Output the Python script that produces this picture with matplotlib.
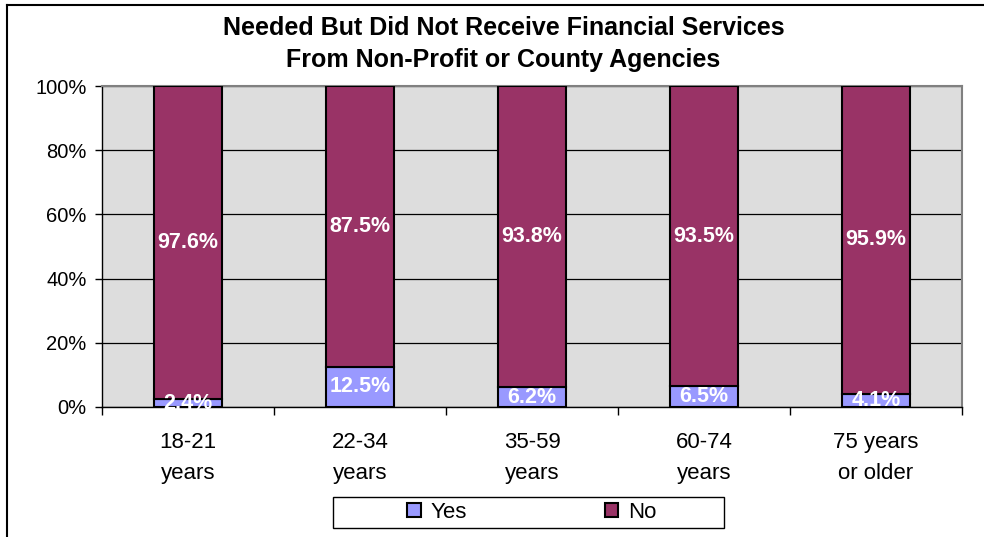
import numpy as np
import matplotlib
matplotlib.use("Agg")
import matplotlib.pyplot as plt
from matplotlib.patches import Rectangle
from matplotlib.lines import Line2D

plt.rcParams['font.family'] = ['Liberation Sans', 'DejaVu Sans']

# === Data ===
age_groups = ['18-21\nyears', '22-34\nyears', '35-59\nyears', '60-74\nyears', '75 years\nor older']
yes_pct = [2.4, 12.5, 6.2, 6.5, 4.1]
no_pct = [97.6, 87.5, 93.8, 93.5, 95.9]
yticks = [0, 20, 40, 60, 80, 100]

col_yes = '#9999FF'
col_no = '#993366'

W, H = 984, 537
fig = plt.figure(figsize=(W / 100, H / 100), dpi=100)

# axes placed in pixel terms
ax = fig.add_axes([102 / W, 1 - 407 / H, (962 - 102) / W, (407 - 86) / H])
ax.set_facecolor('#DDDDDD')

x = np.arange(len(age_groups))
bw = 0.40
ax.bar(x, yes_pct, bw, color=col_yes, edgecolor='black', linewidth=1.5, zorder=3, label='Yes')
ax.bar(x, no_pct, bw, bottom=yes_pct, color=col_no, edgecolor='black', linewidth=1.5, zorder=3, label='No')

# value labels in the middle of each segment
for i in range(len(x)):
    ax.text(x[i], yes_pct[i] / 2, f'{yes_pct[i]}%', ha='center', va='center',
            color='white', fontsize=15.5, fontweight='bold', zorder=4)
    ax.text(x[i], yes_pct[i] + no_pct[i] / 2, f'{no_pct[i]}%', ha='center', va='center',
            color='white', fontsize=15.5, fontweight='bold', zorder=4)

ax.set_ylim(0, 100)
ax.set_xlim(-0.5, len(x) - 0.5)
ax.set_yticks(yticks)
ax.set_yticklabels([f'{v}%' for v in yticks], fontsize=14.5)
ax.yaxis.grid(True, color='black', linewidth=0.9, zorder=1)
ax.set_axisbelow(True)

# ticks between categories, labels at the centres
ax.set_xticks(np.arange(len(x) + 1) - 0.5)
ax.set_xticklabels([])
ax.set_xticks(x, minor=True)
ax.set_xticklabels(age_groups, minor=True, fontsize=16, linespacing=1.63)
ax.tick_params(axis='x', which='major', length=6, direction='out', width=1)
ax.tick_params(axis='x', which='minor', length=0, pad=18)
ax.tick_params(axis='y', length=5, width=1, pad=6)

for s in ['top', 'right']:
    ax.spines[s].set_color('#808080')
    ax.spines[s].set_linewidth(1.5)
for s in ['left', 'bottom']:
    ax.spines[s].set_color('black')
    ax.spines[s].set_linewidth(1)

# title
fig.text(503.5 / W, 1 - 44 / H, 'Needed But Did Not Receive Financial Services\nFrom Non-Profit or County Agencies',
         ha='center', va='center', fontsize=18, fontweight='bold', linespacing=1.4)

# legend with a square box drawn separately
fig.patches.append(Rectangle((333 / W, 1 - 528 / H), (724 - 333) / W, (528 - 497) / H,
                             transform=fig.transFigure, facecolor='white', edgecolor='black',
                             linewidth=1))
h, l = ax.get_legend_handles_labels()
fig.legend(h, l, loc='center', bbox_to_anchor=(532 / W, 1 - 512.5 / H), ncol=2, frameon=False,
           fontsize=16, handlelength=0.6, handleheight=0.6, handletextpad=0.45, columnspacing=6.2)

# outer chart frame (left and top edges)
fig.add_artist(Line2D([7 / W, 7 / W], [0, 1 - 5 / H], color='black', linewidth=1.5, transform=fig.transFigure))
fig.add_artist(Line2D([7 / W, 1], [1 - 5 / H, 1 - 5 / H], color='black', linewidth=1.5, transform=fig.transFigure))

fig.savefig('out.png', dpi=100)
